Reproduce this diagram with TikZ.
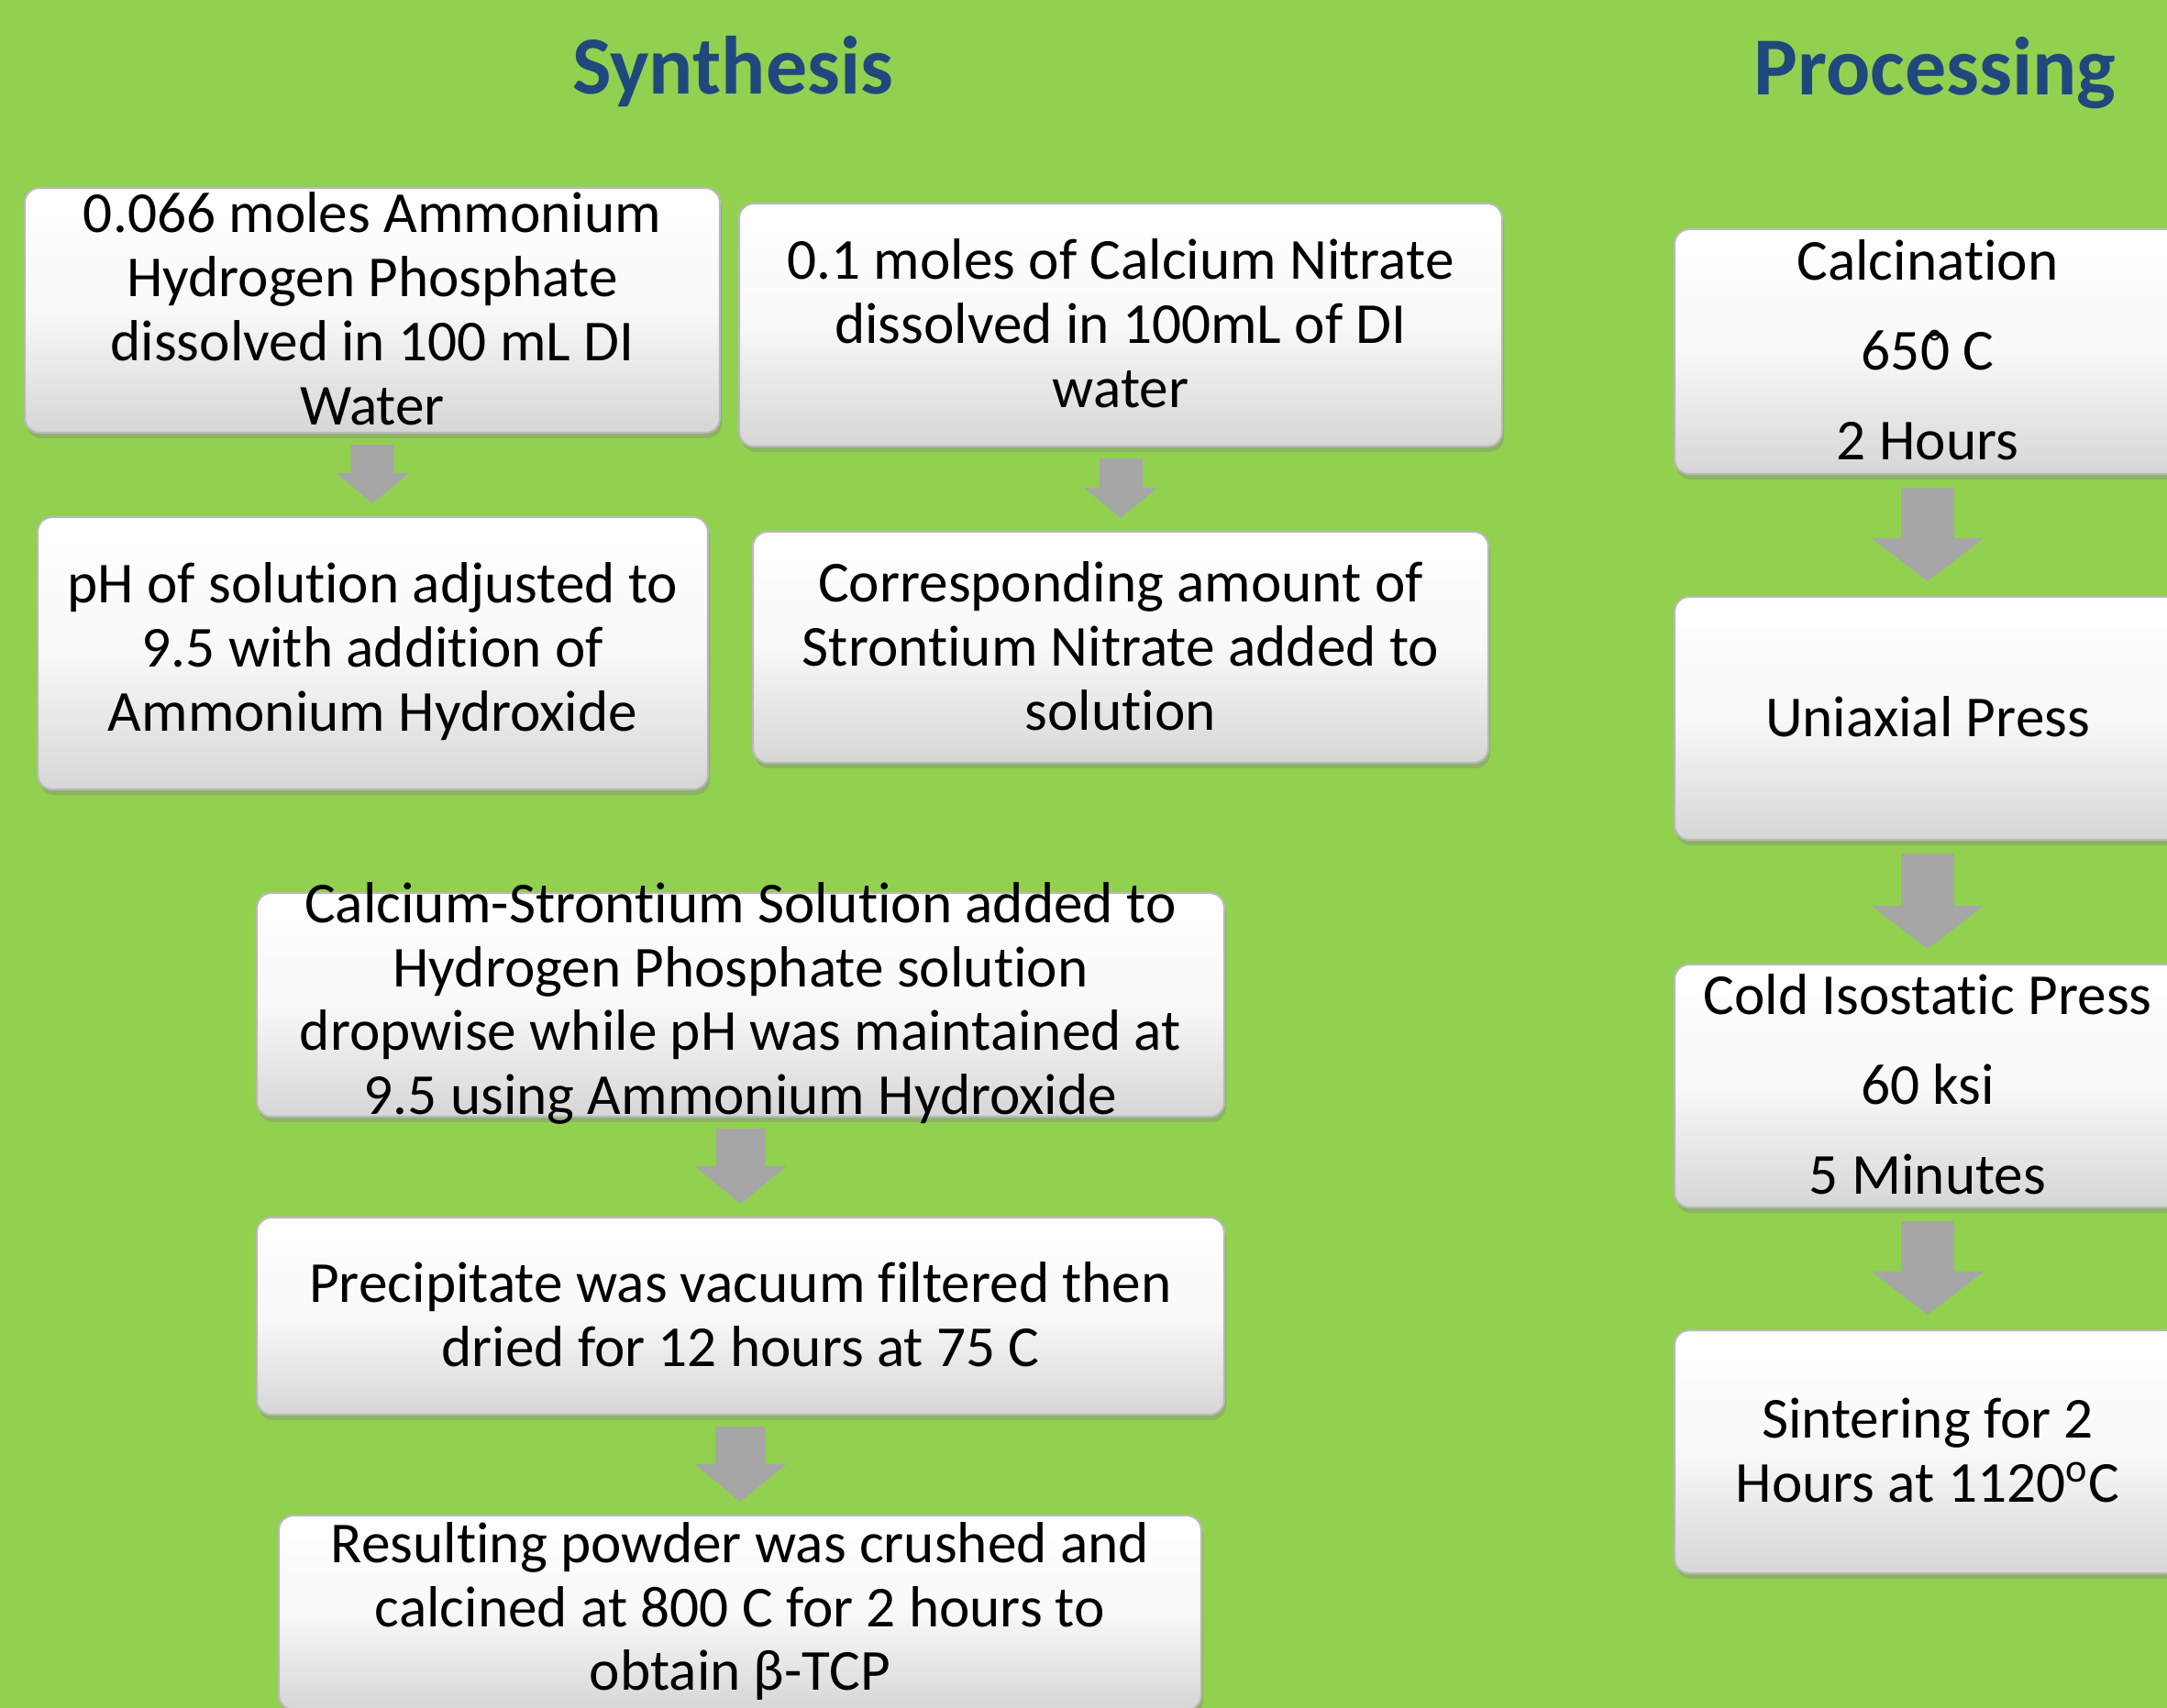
\documentclass[tikz,border=0pt]{standalone}
\usepackage{fontspec}
\setmainfont{Carlito}[Ligatures=NoCommon]
\usetikzlibrary{arrows.meta,shadows}
\definecolor{bggreen}{HTML}{92D050}
\definecolor{titleblue}{HTML}{1F497D}
\definecolor{arrowgray}{HTML}{A6A6A6}
\begin{document}
\begin{tikzpicture}[
  stepbox/.style 2 args={rounded corners=0.16cm, draw=gray!55, line width=0.6pt,
    top color=white, bottom color=gray!32, middle color=gray!5,
    drop shadow={opacity=0.35, shadow xshift=0.02cm, shadow yshift=-0.06cm},
    minimum width=#1cm, minimum height=#2cm, inner sep=0pt},
  steptext/.style={align=center, inner sep=0pt, yshift=0.015cm, font=\fontsize{18pt}{19.9pt}\selectfont},
  heading/.style={anchor=base, text=titleblue, font=\fontsize{25.6pt}{30pt}\selectfont\bfseries},
  smallarrow/.style={draw=arrowgray, line width=0.47cm, -{Triangle[width=0.78cm, length=0.33cm]},
    shorten <=0.12cm, shorten >=0.14cm},
  midarrow/.style={draw=arrowgray, line width=0.54cm, -{Triangle[width=0.98cm, length=0.41cm]},
    shorten <=0.12cm, shorten >=0.14cm},
  bigarrow/.style={draw=arrowgray, line width=0.58cm, -{Triangle[width=1.2cm, length=0.47cm]},
    shorten <=0.14cm, shorten >=0.16cm}
]
\useasboundingbox (0,0) rectangle (23.63,-18.63);
\clip (0,0) rectangle (23.63,-18.63);
\fill[bggreen] (0,0) rectangle (23.63,-18.63);

\node[heading] (synth) at (7.99,-1.03) {Synthesis};
\node[heading] (proc) at (21.10,-1.04) {Processing};

\node[stepbox={7.58}{2.67}] (ammonium) at (4.06,-3.385) {};
\node[steptext] at (ammonium) {0.066 moles Ammonium\\Hydrogen Phosphate\\dissolved in 100 mL DI\\Water};
\node[stepbox={8.32}{2.65}] (calcium) at (12.22,-3.545) {};
\node[steptext] at (calcium) {0.1 moles of Calcium Nitrate\\dissolved in 100mL of DI\\water};
\node[stepbox={7.31}{2.97}] (phadjust) at (4.065,-7.125) {};
\node[steptext] at (phadjust) {pH of solution adjusted to\\9.5 with addition of\\Ammonium Hydroxide};
\node[stepbox={8.02}{2.52}] (strontium) at (12.22,-7.06) {};
\node[steptext] at (strontium) {Corresponding amount of\\Strontium Nitrate added to\\solution};
\node[stepbox={10.55}{2.44}] (mixing) at (8.075,-10.96) {};
\node[steptext] at (mixing) {Calcium-Strontium Solution added to\\Hydrogen Phosphate solution\\dropwise while pH was maintained at\\9.5 using Ammonium Hydroxide};
\node[stepbox={10.55}{2.15}] (drying) at (8.075,-14.355) {};
\node[steptext] at (drying) {Precipitate was vacuum filtered then\\dried for 12 hours at 75 C};
\node[stepbox={10.06}{2.12}] (crushing) at (8.07,-17.59) {};
\node[steptext] at (crushing) {Resulting powder was crushed and\\calcined at 800 C for 2 hours to\\obtain β-TCP};

\node[stepbox={5.52}{2.67}] (calcine) at (21.02,-3.835) {};
\node[steptext] at (calcine) {Calcination\\[8pt]65{\ooalign{0\cr\hidewidth\raisebox{5pt}{\fontsize{11pt}{11pt}\selectfont °}\hidewidth\cr}} C\\[8pt]2 Hours};
\node[stepbox={5.52}{2.65}] (uniaxial) at (21.02,-7.835) {};
\node[steptext] at (uniaxial) {Uniaxial Press};
\node[stepbox={5.52}{2.65}] (cip) at (21.02,-11.845) {};
\node[steptext] at (cip) {Cold Isostatic Press\\[8pt]60 ksi\\[8pt]5 Minutes};
\node[stepbox={5.52}{2.65}] (sinter) at (21.02,-15.835) {};
\node[steptext] at (sinter) {Sintering for 2\\Hours at 1120\textsuperscript{o}C};

\draw[smallarrow] (ammonium) -- (phadjust);
\draw[smallarrow] (calcium) -- (strontium);
\draw[midarrow] (mixing) -- (drying);
\draw[midarrow] (drying) -- (crushing);
\draw[bigarrow] (calcine) -- (uniaxial);
\draw[bigarrow] (uniaxial) -- (cip);
\draw[bigarrow] (cip) -- (sinter);
\end{tikzpicture}
\end{document}
